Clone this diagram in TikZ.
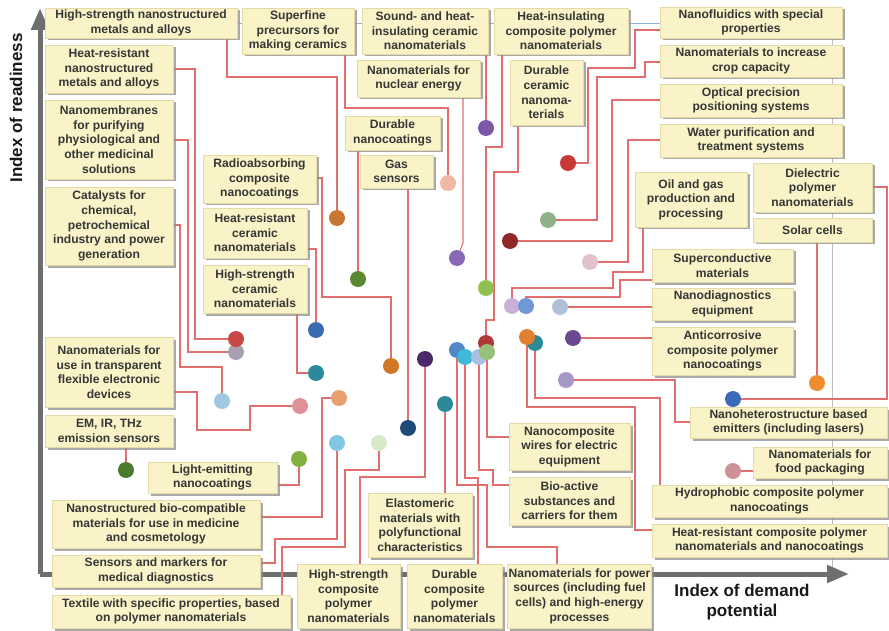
\documentclass[tikz,border=0pt]{standalone}
\usepackage{fontspec}
\setmainfont{Liberation Sans}
\usetikzlibrary{arrows.meta,shadows}

\definecolor{boxfill}{HTML}{FAF3C8}
\definecolor{boxedge}{HTML}{E4DBA8}
\definecolor{txt}{HTML}{363636}
\definecolor{axisgrey}{HTML}{6E6E6E}
\definecolor{linkred}{HTML}{E26E6E}
\definecolor{topblue}{HTML}{8FB4DC}
\definecolor{guide}{HTML}{BDBDBD}

\pgfdeclarelayer{back}
\pgfsetlayers{back,main}

\tikzset{
  box/.style={draw=boxedge, line width=.6pt, fill=boxfill, text=txt,
    font=\fontsize{12.1}{14.6}\selectfont\bfseries, align=center, inner sep=1pt,
    drop shadow={shadow xshift=2.5pt, shadow yshift=-2.5pt, fill=black!45, opacity=.75}},
  dot/.style={circle, minimum size=16pt, inner sep=0pt, fill=#1},
  link/.style={draw=linkred, line width=1.1pt},
  axis/.style={draw=axisgrey, line width=5pt, -{Triangle[length=22pt,width=17pt]}},
  axislabel/.style={font=\fontsize{17}{20}\selectfont\bfseries, text=black!90, align=center},
}

% box: name, left, top, right, bottom, text
\newcommand{\bx}[6]{%
  \node[box, minimum width={#4-#2}, minimum height={#5-#3}] (#1) at ({(#2+#4)/2},{(#3+#5)/2}) {#6};}
% dot: name, x, y, hex colour
\newcommand{\dt}[4]{%
  \definecolor{col#1}{HTML}{#4}%
  \node[dot=col#1] (#1) at (#2,#3) {};}

\begin{document}
\begin{tikzpicture}[x=1pt,y=-1pt]
\useasboundingbox (0,0) rectangle (889,631);

% ---------- boxes ----------
\bx{b1}{45}{8}{237}{38}{High-strength nanostructured\\metals and alloys}
\bx{b2}{242}{8}{354}{54}{Superfine\\precursors for\\making ceramics}
\bx{b3}{362}{8}{488}{54}{Sound- and heat-\\insulating ceramic\\nanomaterials}
\bx{b4}{494}{8}{628}{54}{Heat-insulating\\composite polymer\\nanomaterials}
\bx{b5}{660}{7}{842}{38}{Nanofluidics with special\\properties}
\bx{b6}{660}{45}{842}{77}{Nanomaterials to increase\\crop capacity}
\bx{b7}{660}{84}{842}{117}{Optical precision\\positioning systems}
\bx{b8}{660}{124}{842}{157}{Water purification and\\treatment systems}
\bx{b9}{753}{163}{872}{212}{Dielectric\\polymer\\nanomaterials}
\bx{b10}{753}{218}{872}{242}{Solar cells}
\bx{b11}{635}{172}{747}{227}{Oil and gas\\production and\\processing}
\bx{b12}{652}{249}{793}{282}{Superconductive\\materials}
\bx{b13}{652}{288}{793}{320}{Nanodiagnostics\\equipment}
\bx{b14}{652}{327}{793}{375}{Anticorrosive\\composite polymer\\nanocoatings}
\bx{b15}{690}{407}{887}{438}{Nanoheterostructure based\\emitters (including lasers)}
\bx{b16}{753}{447}{887}{478}{Nanomaterials for\\food packaging}
\bx{b17}{652}{485}{887}{517}{Hydrophobic composite polymer\\nanocoatings}
\bx{b18}{652}{524}{887}{557}{Heat-resistant composite polymer\\nanomaterials and nanocoatings}
\bx{b19}{510}{564}{649}{628}{Nanomaterials for power\\sources (including fuel\\cells) and high-energy\\processes}
\bx{b20}{407}{564}{502}{628}{Durable\\composite\\polymer\\nanomaterials}
\bx{b21}{297}{564}{400}{628}{High-strength\\composite\\polymer\\nanomaterials}
\bx{b22}{368}{493}{472}{557}{Elastomeric\\materials with\\polyfunctional\\characteristics}
\bx{b23}{509}{423}{630}{470}{Nanocomposite\\wires for electric\\equipment}
\bx{b24}{509}{477}{630}{525}{Bio-active\\substances and\\carriers for them}
\bx{b25}{52}{595}{290}{628}{Textile with specific properties, based\\on polymer nanomaterials}
\bx{b26}{52}{555}{260}{587}{Sensors and markers for\\medical diagnostics}
\bx{b27}{52}{500}{260}{548}{Nanostructured bio-compatible\\materials for use in medicine\\and cosmetology}
\bx{b28}{148}{462}{277}{493}{Light-emitting\\nanocoatings}
\bx{b29}{45}{415}{173}{447}{EM, IR, THz\\emission sensors}
\bx{b30}{45}{337}{173}{407}{Nanomaterials for\\use in transparent\\flexible electronic\\devices}
\bx{b31}{45}{187}{173}{265}{Catalysts for\\chemical,\\petrochemical\\industry and power\\generation}
\bx{b32}{45}{100}{173}{179}{Nanomembranes\\for purifying\\physiological and\\other medicinal\\solutions}
\bx{b33}{45}{45}{173}{93}{Heat-resistant\\nanostructured\\metals and alloys}
\bx{b34}{203}{155}{316}{203}{Radioabsorbing\\composite\\nanocoatings}
\bx{b35}{203}{208}{307}{258}{Heat-resistant\\ceramic\\nanomaterials}
\bx{b36}{203}{265}{307}{313}{High-strength\\ceramic\\nanomaterials}
\bx{b37}{357}{60}{480}{97}{Nanomaterials for\\nuclear energy}
\bx{b38}{345}{116}{440}{150}{Durable\\nanocoatings}
\bx{b39}{360}{155}{433}{188}{Gas\\sensors}
\bx{b40}{510}{60}{583}{125}{Durable\\ceramic\\nanoma-\\terials}

% ---------- axis titles ----------
\node[axislabel, rotate=90] (ylab) at (16,108) {Index of readiness};
\node[axislabel] (xlab) at (742,602) {Index of demand\\potential};

% ---------- dots ----------
\dt{dHSNM}{337}{218}{C87830}
\dt{dSuperfine}{448}{183}{F0B8A0}
\dt{dSound}{486}{128}{7B58A8}
\dt{dHeatIns}{486}{288}{90C050}
\dt{dNanofl}{568}{163}{C83838}
\dt{dCrop}{548}{220}{90B088}
\dt{dOptical}{510}{241}{902828}
\dt{dWater}{590}{262}{E2C2CA}
\dt{dOil}{512}{306}{C8B0D8}
\dt{dSupercond}{526}{306}{7098D8}
\dt{dNanodiag}{560}{307}{B0C0D8}
\dt{dAnticor}{573}{338}{6A4890}
\dt{dSolar}{817}{383}{F08C30}
\dt{dDielectric}{733}{399}{3A6AB8}
\dt{dNanohetero}{566}{380}{A898C8}
\dt{dFood}{733}{471}{D09098}
\dt{dHydro}{535}{343}{2A8A98}
\dt{dHeatResComp}{527}{337}{E08030}
\dt{dPower}{457}{350}{5088C8}
\dt{dDurComp}{465}{357}{40B8D8}
\dt{dBioactive}{479}{357}{A8C0E0}
\dt{dDurCeram}{486}{343}{B03838}
\dt{dNanowire}{487}{352}{98C078}
\dt{dElastomeric}{445}{404}{2A8A9A}
\dt{dHSComp}{425}{359}{4A2A68}
\dt{dGas}{408}{428}{1F4A78}
\dt{dTextile}{379}{443}{D8E8C8}
\dt{dSensors}{337}{443}{80C8E0}
\dt{dBiocompat}{339}{398}{E8A070}
\dt{dLightEm}{299}{459}{80B040}
\dt{dEM}{126}{470}{4A7A30}
\dt{dTransp}{300}{406}{E09098}
\dt{dCatalyst}{222}{401}{A0C8E0}
\dt{dMembrane}{236}{352}{A8A0B0}
\dt{dHRNM}{236}{339}{C84848}
\dt{dRadio}{391}{366}{D07828}
\dt{dHRCeram}{316}{330}{3A6AB0}
\dt{dHSCeram}{316}{373}{2A8A9A}
\dt{dNuclear}{457}{258}{8A68B8}
\dt{dDurNano}{358}{279}{5A8A30}

% ---------- axes, guides and connectors (behind) ----------
\begin{pgfonlayer}{back}
  \coordinate (origin) at (40,574);
  \coordinate (ytip) at (40,8);
  \coordinate (xtip) at (849,574);
  \coordinate (gtop) at (832,23);
  \coordinate (gbot) at (832,572);
  \draw[topblue, line width=.8pt] (ytip |- 0,23) -- (b5.west |- 0,23);
  \draw[guide, line width=.8pt] (gtop) -- (gbot);
  \draw[axis] (origin) -- (ytip);
  \draw[axis] (origin) -- (xtip);

  % top row and upper right
  \draw[link] (dHSNM) |- (227,77) -- (227,0 |- b1.south);
  \draw[link] (dSuperfine) |- (345,108) -- (345,0 |- b2.south);
  \draw[link] (dSound) -- (486,0 |- b3.south);
  \draw[link] (dHeatIns) |- (502,147) -- (502,0 |- b4.south);
  \draw[link] (dNanofl) -| (588,68) -| (635,30) -- (b5.west |- 0,30);
  \draw[link] (dCrop) -| (597,77) -| (645,62) -- (b6.west |- 0,62);
  \draw[link] (dOptical) -| (612,100) -- (b7.west |- 0,100);
  \draw[link] (dWater) -| (628,140) -- (b8.west |- 0,140);
  \draw[link] (dDielectric) -| (887,187) -- (b9.east |- 0,187);
  \draw[link] (dSolar) -- (817,0 |- b10.south);
  \draw[link] (dOil) |- (613,288) |- (643,272) -- (643,0 |- b11.south);
  \draw[link] (dSupercond) |- (620,297) |- (b12.west |- 0,280);
  \draw[link] (dNanodiag) -- (b13.west |- dNanodiag);
  \draw[link] (dAnticor) -- (b14.west |- dAnticor);

  % lower right
  \draw[link] (dNanohetero) -| (675,422) -- (b15.west |- 0,422);
  \draw[link] (dFood) -- (b16.west |- dFood);
  \draw[link] (dHydro) |- (660,398) -- (660,0 |- b17.north);
  \draw[link] (dHeatResComp) |- (635,407) |- (b18.west |- 0,530);

  % centre cluster down to the bottom row
  \draw[link] (dPower) |- (487,485) |- (557,547) -- (557,0 |- b19.north);
  \draw[link] (dDurComp) |- (478,478) -- (478,0 |- b20.north);
  \draw[link] (dBioactive) |- (493,470) |- (b24.west |- 0,485);
  \draw[link] (dNanowire) |- (b23.west |- 0,437);
  \draw[link] (dDurCeram) |- (494,320) |- (518,172) -- (518,0 |- b40.south);
  \draw[link] (dElastomeric) -- (445,0 |- b22.north);
  \draw[link] (dHSComp) |- (360,477) -- (360,0 |- b21.north);
  \draw[link] (dGas) -- (408,0 |- b39.south);

  % lower left
  \draw[link] (dTextile) |- (345,470) |- (282,547) -- (282,0 |- b25.north);
  \draw[link] (dSensors) |- (275,539) |- (b26.east |- 0,563);
  \draw[link] (dBiocompat) -| (322,517) -- (b27.east |- 0,517);
  \draw[link] (dLightEm) |- (b28.east |- 0,485);
  \draw[link] (dEM) -- (126,0 |- b29.south);
  \draw[link] (dTransp) -| (250,430) -| (197,392) -- (b30.east |- 0,392);

  % upper left
  \draw[link] (dCatalyst) |- (180,367) |- (b31.east |- 0,225);
  \draw[link] (dMembrane) -| (188,140) -- (b32.east |- 0,140);
  \draw[link] (dHRNM) -| (195,69) -- (b33.east |- 0,69);
  \draw[link] (dRadio) |- (322,297) |- (b34.east |- 0,178);
  \draw[link] (dHRCeram) |- (b35.east |- 0,249);
  \draw[link] (dHSCeram) -| (297,0 |- b36.south);
  \draw[link] (dNuclear) -- (463,243) -- (463,0 |- b37.south);
  \draw[link] (dDurNano) -- (358,0 |- b38.south);
\end{pgfonlayer}
\end{tikzpicture}
\end{document}
